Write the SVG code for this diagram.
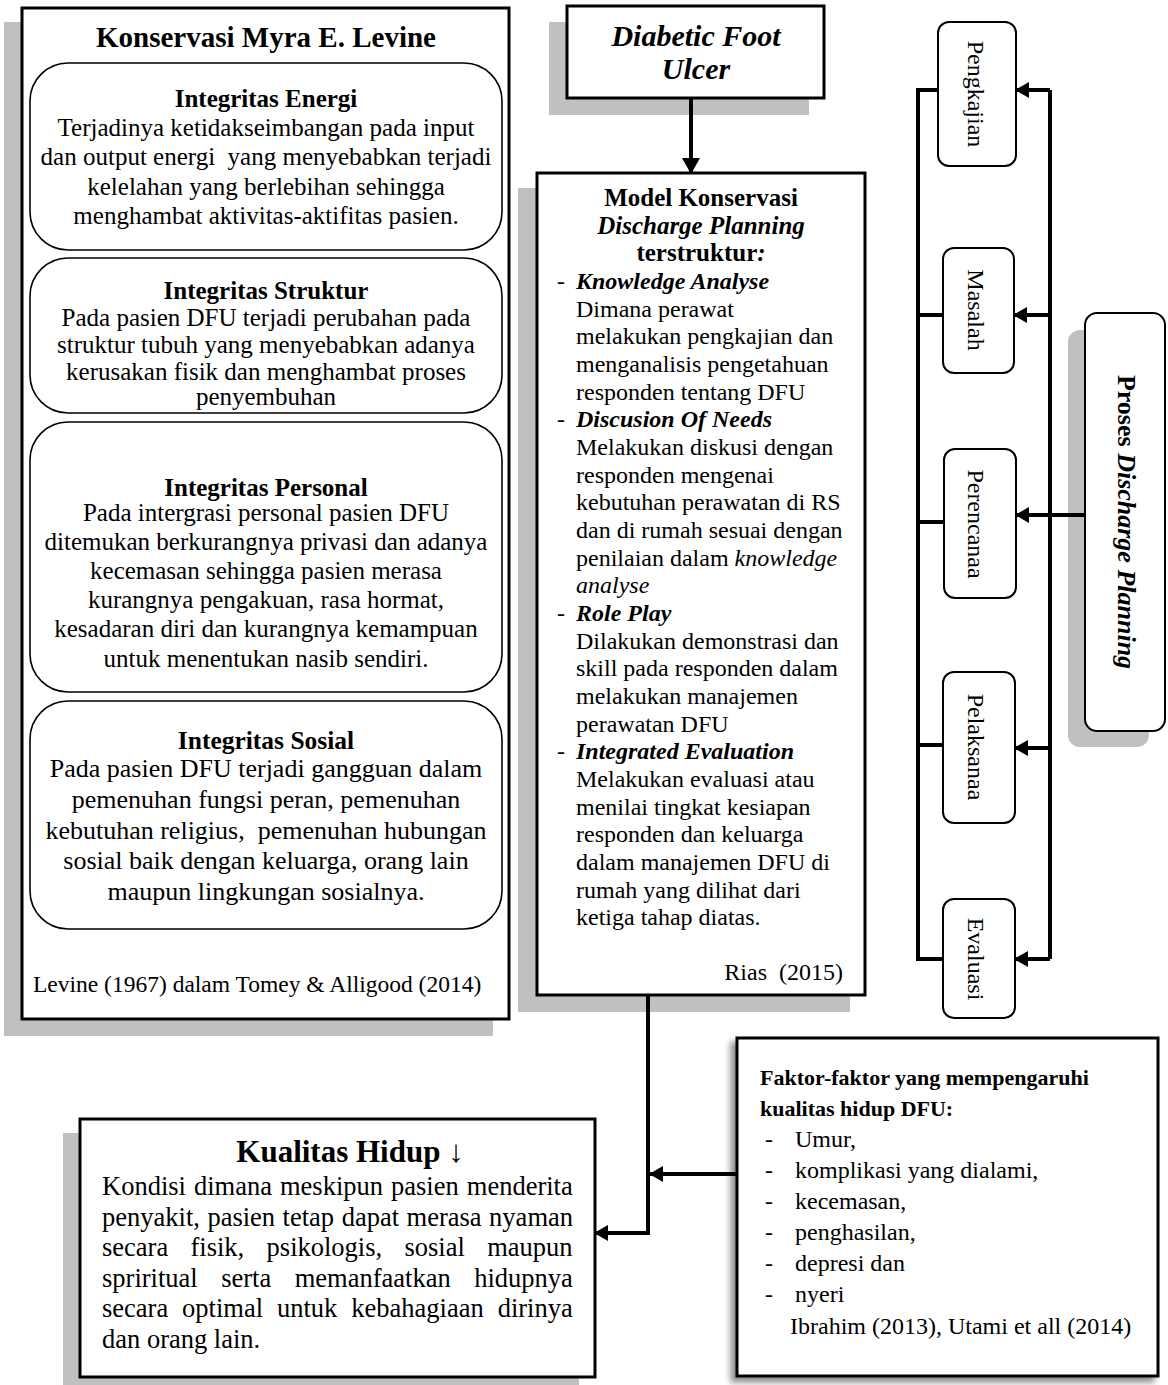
<svg xmlns="http://www.w3.org/2000/svg" width="1168" height="1385" viewBox="0 0 1168 1385">
<defs>
<style>
text{font-family:"Liberation Serif","Times New Roman",serif;fill:#000}
.shadow{fill:#c0c0c0;stroke:none}
.box{fill:#fff;stroke:#000;stroke-width:3}
.rbox{fill:#fff;stroke:#000;stroke-width:1.6}
.sbox{fill:#fff;stroke:#000;stroke-width:2}
.line{fill:none;stroke:#000;stroke-width:4}
.b{font-weight:bold}
.i{font-style:italic}
.bi{font-weight:bold;font-style:italic}
.t25{font-size:25px}
.t24{font-size:24px}
.mid{text-anchor:middle}
</style>
<marker id="ah" viewBox="0 0 14 16" refX="13" refY="8" markerWidth="14" markerHeight="16" markerUnits="userSpaceOnUse" orient="auto">
<path d="M0,0 L14,8 L0,16 Z" fill="#000"/>
</marker>
<marker id="ahBig" viewBox="0 0 16 18" refX="15" refY="9" markerWidth="16" markerHeight="18" markerUnits="userSpaceOnUse" orient="auto">
<path d="M0,0 L16,9 L0,18 Z" fill="#000"/>
</marker>
<filter id="soft" x="-10%" y="-10%" width="120%" height="120%">
<feDropShadow dx="-5" dy="5" stdDeviation="3" flood-color="#000" flood-opacity="0.45"/>
</filter>
</defs>

<g id="node-levine">
<rect class="shadow" x="4" y="22" width="489" height="1014"/>
<rect class="box" x="22" y="8" width="487" height="1011"/>
<text class="b mid" x="266" y="47" font-size="29">Konservasi Myra E. Levine</text>
<rect class="rbox" x="30" y="63" width="472" height="187" rx="38"/>
<text class="b mid t25" x="266" y="107">Integritas Energi</text>
<text class="mid t25" x="266" y="136">Terjadinya ketidakseimbangan pada input</text>
<text class="mid t25" x="266" y="165" xml:space="preserve">dan output energi  yang menyebabkan terjadi</text>
<text class="mid t25" x="266" y="195">kelelahan yang berlebihan sehingga</text>
<text class="mid t25" x="266" y="224">menghambat aktivitas-aktifitas pasien.</text>
<rect class="rbox" x="30" y="258" width="472" height="155" rx="38"/>
<text class="b mid t25" x="266" y="299">Integritas Struktur</text>
<text class="mid t25" x="266" y="326">Pada pasien DFU terjadi perubahan pada</text>
<text class="mid t25" x="266" y="353">struktur tubuh yang menyebabkan adanya</text>
<text class="mid t25" x="266" y="380">kerusakan fisik dan menghambat proses</text>
<text class="mid t25" x="266" y="405">penyembuhan</text>
<rect class="rbox" x="30" y="422" width="472" height="270" rx="38"/>
<text class="b mid t25" x="266" y="496">Integritas Personal</text>
<text class="mid t25" x="266" y="521">Pada intergrasi personal pasien DFU</text>
<text class="mid t25" x="266" y="550">ditemukan berkurangnya privasi dan adanya</text>
<text class="mid t25" x="266" y="579">kecemasan sehingga pasien merasa</text>
<text class="mid t25" x="266" y="608">kurangnya pengakuan, rasa hormat,</text>
<text class="mid t25" x="266" y="637">kesadaran diri dan kurangnya kemampuan</text>
<text class="mid t25" x="266" y="667">untuk menentukan nasib sendiri.</text>
<rect class="rbox" x="30" y="701" width="472" height="228" rx="38"/>
<text class="b mid" x="266" y="749" font-size="25.5">Integritas Sosial</text>
<text class="mid" x="266" y="777" font-size="26">Pada pasien DFU terjadi gangguan dalam</text>
<text class="mid" x="266" y="808" font-size="26">pemenuhan fungsi peran, pemenuhan</text>
<text class="mid" x="266" y="839" font-size="26" xml:space="preserve">kebutuhan religius,  pemenuhan hubungan</text>
<text class="mid" x="266" y="869" font-size="26">sosial baik dengan keluarga, orang lain</text>
<text class="mid" x="266" y="900" font-size="26">maupun lingkungan sosialnya.</text>
<text x="33" y="992" font-size="23.5">Levine (1967) dalam Tomey &amp; Alligood (2014)</text>
</g>

<g id="node-dfu">
<rect class="shadow" x="549" y="22" width="260" height="93"/>
<rect class="box" x="567" y="6" width="257" height="92"/>
<text class="bi mid" x="696" y="46" font-size="30">Diabetic Foot</text>
<text class="bi mid" x="696" y="79" font-size="30">Ulcer</text>
</g>

<g id="node-model">
<rect class="shadow" x="518" y="188" width="332" height="824"/>
<rect class="box" x="537" y="173" width="328" height="822"/>
<text class="b mid" x="701" y="206" font-size="25">Model Konservasi</text>
<text class="bi mid" x="701" y="234" font-size="25">Discharge Planning</text>
<text class="b mid" x="701" y="261" font-size="25">terstruktur<tspan class="i">:</tspan></text>
<g class="t24">
<text x="557" y="289">-</text><text class="bi" x="576" y="289">Knowledge Analyse</text>
<text x="576" y="317">Dimana perawat</text>
<text x="576" y="344">melakukan pengkajian dan</text>
<text x="576" y="372">menganalisis pengetahuan</text>
<text x="576" y="400">responden tentang DFU</text>
<text x="557" y="427">-</text><text class="bi" x="576" y="427">Discusion Of Needs</text>
<text x="576" y="455">Melakukan diskusi dengan</text>
<text x="576" y="483">responden mengenai</text>
<text x="576" y="510">kebutuhan perawatan di RS</text>
<text x="576" y="538">dan di rumah sesuai dengan</text>
<text x="576" y="566">penilaian dalam <tspan class="i">knowledge</tspan></text>
<text class="i" x="576" y="593">analyse</text>
<text x="557" y="621">-</text><text class="bi" x="576" y="621">Role Play</text>
<text x="576" y="649">Dilakukan demonstrasi dan</text>
<text x="576" y="676">skill pada responden dalam</text>
<text x="576" y="704">melakukan manajemen</text>
<text x="576" y="732">perawatan DFU</text>
<text x="557" y="759">-</text><text class="bi" x="576" y="759">Integrated Evaluation</text>
<text x="576" y="787">Melakukan evaluasi atau</text>
<text x="576" y="815">menilai tingkat kesiapan</text>
<text x="576" y="842">responden dan keluarga</text>
<text x="576" y="870">dalam manajemen DFU di</text>
<text x="576" y="898">rumah yang dilihat dari</text>
<text x="576" y="925">ketiga tahap diatas.</text>
<text x="843" y="980" text-anchor="end" xml:space="preserve">Rias  (2015)</text>
</g>
</g>

<g id="node-pengkajian">
<rect class="sbox" x="938" y="22" width="78" height="144" rx="11"/>
<text class="mid t24" transform="translate(968,94) rotate(90)">Pengkajian</text>
</g>
<g id="node-masalah">
<rect class="sbox" x="943" y="248" width="71" height="125" rx="11"/>
<text class="mid t24" transform="translate(968,310) rotate(90)">Masalah</text>
</g>
<g id="node-perencanaa">
<rect class="sbox" x="944" y="449" width="72" height="149" rx="11"/>
<text class="mid t24" transform="translate(968,524) rotate(90)">Perencanaa</text>
</g>
<g id="node-pelaksanaa">
<rect class="sbox" x="943" y="672" width="72" height="151" rx="11"/>
<text class="mid t24" transform="translate(968,747) rotate(90)">Pelaksanaa</text>
</g>
<g id="node-evaluasi">
<rect class="sbox" x="943" y="899" width="72" height="119" rx="11"/>
<text class="mid t24" transform="translate(968,959) rotate(90)">Evaluasi</text>
</g>

<g id="node-proses">
<rect class="shadow" x="1068" y="330" width="81" height="417" rx="12"/>
<rect class="sbox" x="1085" y="313" width="80" height="418" rx="12"/>
<text class="b mid" font-size="26" transform="translate(1118,522) rotate(90)">Proses <tspan class="i">Discharge Planning</tspan></text>
</g>

<g id="node-faktor">
<rect x="737" y="1038" width="421" height="338" fill="#fff" stroke="#000" stroke-width="3" filter="url(#soft)"/>
<text class="b" x="760" y="1085" font-size="22">Faktor-faktor yang mempengaruhi</text>
<text class="b" x="760" y="1116" font-size="22">kualitas hidup DFU:</text>
<g class="t24">
<text x="765" y="1147">-</text><text x="795" y="1147">Umur,</text>
<text x="765" y="1178">-</text><text x="795" y="1178">komplikasi yang dialami,</text>
<text x="765" y="1209">-</text><text x="795" y="1209">kecemasan,</text>
<text x="765" y="1240">-</text><text x="795" y="1240">penghasilan,</text>
<text x="765" y="1271">-</text><text x="795" y="1271">depresi dan</text>
<text x="765" y="1302">-</text><text x="795" y="1302">nyeri</text>
<text x="790" y="1334">Ibrahim (2013), Utami et all (2014)</text>
</g>
</g>

<g id="node-kualitas">
<rect class="shadow" x="63" y="1133" width="516" height="260"/>
<rect class="box" x="80" y="1119" width="515" height="258"/>
<text class="b mid" x="350" y="1162" font-size="31">Kualitas Hidup ↓</text>
<g font-size="26.5">
<text x="102" y="1195" style="word-spacing:1.4px">Kondisi dimana meskipun pasien menderita</text>
<text x="102" y="1225.5" style="word-spacing:0.9px">penyakit, pasien tetap dapat merasa nyaman</text>
<text x="102" y="1256" style="word-spacing:15.7px">secara fisik, psikologis, sosial maupun</text>
<text x="102" y="1286.5" style="word-spacing:16.9px">spriritual serta memanfaatkan hidupnya</text>
<text x="102" y="1317" style="word-spacing:7.3px">secara optimal untuk kebahagiaan dirinya</text>
<text x="102" y="1347.5">dan orang lain.</text>
</g>
</g>

<g id="connectors">
<line class="line" x1="691" y1="98" x2="691" y2="173" marker-end="url(#ahBig)"/>
<path class="line" d="M938,90 H918 V959 H943"/>
<path class="line" d="M918,315 H943 M918,522 H944 M918,745 H943"/>
<path class="line" d="M1050,90 V959"/>
<path class="line" d="M1050,90 H1016" marker-end="url(#ah)"/>
<path class="line" d="M1050,315 H1014" marker-end="url(#ah)"/>
<path class="line" d="M1085,515 H1016" marker-end="url(#ah)"/>
<path class="line" d="M1050,748 H1015" marker-end="url(#ah)"/>
<path class="line" d="M1050,959 H1015" marker-end="url(#ah)"/>
<path class="line" d="M648,996 V1233 H595" marker-end="url(#ah)"/>
<path class="line" d="M737,1174 H650" marker-end="url(#ah)"/>
</g>
</svg>
